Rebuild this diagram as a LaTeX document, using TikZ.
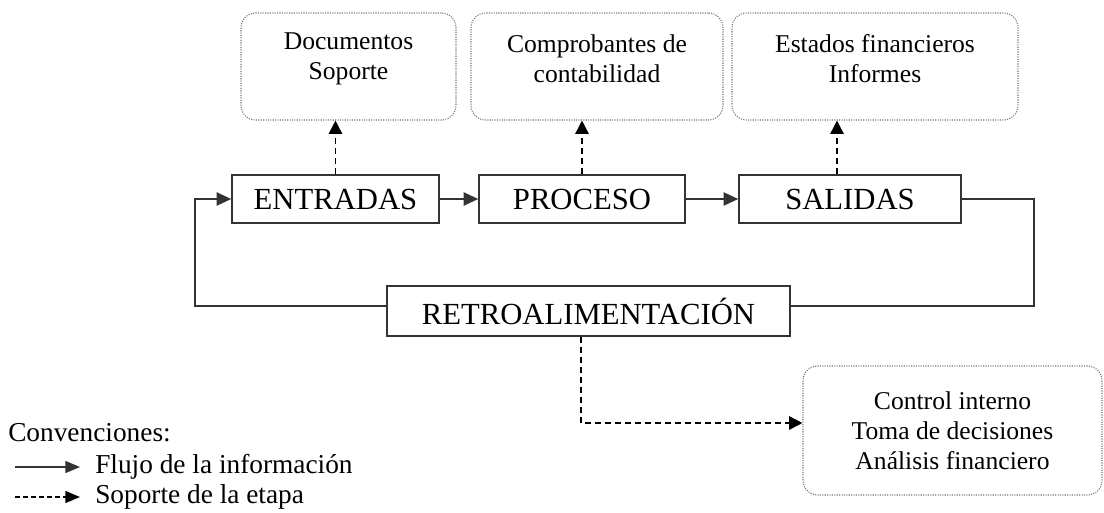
\documentclass[tikz,border=0pt]{standalone}
\usepackage{fontspec}
\setmainfont{Liberation Serif}
\usetikzlibrary{arrows.meta,calc}
\begin{document}
\begin{tikzpicture}[x=0.75pt,y=-0.75pt,
  stage/.style={draw=black!80, line width=1.2pt, inner sep=0pt, minimum height=36pt,
    font=\fontsize{23}{27}\selectfont},
  docbox/.style={draw=black!55, densely dotted, line width=0.8pt, rounded corners=11pt,
    inner sep=0pt, minimum height=80.25pt},
  boxtext/.style={align=center, font=\fontsize{19.2}{22.5}\selectfont, inner sep=0pt},
  flow/.style={draw=black!80, line width=1.2pt, -{Triangle[length=11pt,width=10pt]}},
  loopline/.style={draw=black!80, line width=1.2pt},
  support/.style={draw=black, line width=1.2pt, dash pattern=on 4.5pt off 3pt,
    -{Triangle[length=10pt,width=10pt]}},
  legtext/.style={anchor=west, inner sep=0pt, font=\fontsize{20.5}{24}\selectfont}]
\path[use as bounding box, fill=white] (0,0) rectangle (1104,512);

% top boxes
\node[docbox, minimum width=161.25pt] (doc) at (348.5,66.5) {};
\node[docbox, minimum width=189pt] (comp) at (597,66.5) {};
\node[docbox, minimum width=214.5pt] (est) at (875,66.5) {};
\node[boxtext] (doct) at ($(doc.center)+(0,-8)$) {Documentos\\Soporte};
\node[boxtext] (compt) at ($(comp.center)+(0,-8)$) {Comprobantes de\\contabilidad};
\node[boxtext] (estt) at ($(est.center)+(0,-8)$) {Estados financieros\\Informes};

% stages
\node[stage, minimum width=155.25pt] (ent) at (335.5,199) {ENTRADAS};
\node[stage, minimum width=154.5pt] (pro) at (582,199) {PROCESO};
\node[stage, minimum width=166.5pt] (sal) at (850,199) {SALIDAS};
\node[stage, minimum width=302.25pt, minimum height=37.5pt] (ret) at (588.5,311) {RETROALIMENTACIÓN};

% control box
\node[docbox, minimum width=224.25pt, minimum height=96.75pt] (ctrl) at (952.5,430.5) {};
\node[boxtext] (ctrlt) at (ctrl.center) {Control interno\\Toma de decisiones\\Análisis financiero};

% flow arrows
\draw[flow] (ent.east) -- (pro.west);
\draw[flow] (pro.east) -- (sal.west);
\coordinate (r1) at (1034,306);
\coordinate (l1) at (195,306);
\draw[loopline] (sal.east) -| (r1) -- (r1 -| ret.east);
\draw[flow] (l1 -| ret.west) -- (l1) |- (ent.west);

% support arrows
\draw[support] (ent.north) -- (ent.north |- doc.south);
\draw[support] (pro.north) -- (pro.north |- comp.south);
\coordinate (s1) at ($(sal.north)+(-13,0)$);
\draw[support] (s1) -- (s1 |- est.south);
\coordinate (d1) at ($(ret.south)+(-7.5,0)$);
\coordinate (d2) at (581,423);
\draw[support] (d1) -- (d2) -- (d2 -| ctrl.west);

% legend
\node[legtext] (conv) at (8,433) {Convenciones:};
\coordinate (la) at (15,467);
\coordinate (lb) at (80,467);
\coordinate (lc) at (15,497);
\coordinate (ld) at (80,497);
\draw[flow, line width=1pt, -{Triangle[length=11pt,width=9pt]}] (la) -- (lb);
\draw[draw=black, line width=1pt, dash pattern=on 3.5pt off 2.5pt, -{Triangle[length=11pt,width=9pt]}] (lc) -- (ld);
\node[legtext] (l1t) at (95,467) {Flujo de la información};
\node[legtext] (l2t) at (95,497) {Soporte de la etapa};
\end{tikzpicture}
\end{document}
